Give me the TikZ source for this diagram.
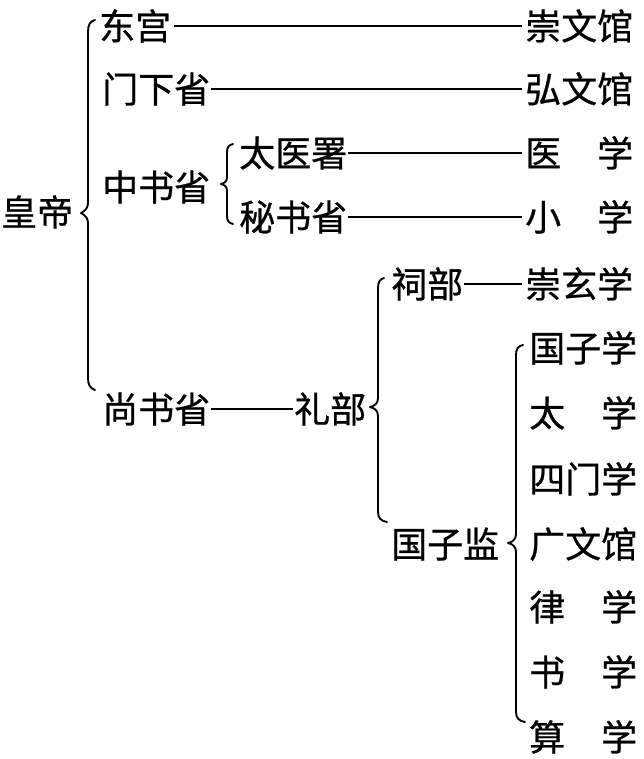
\documentclass[tikz,border=0pt]{standalone}
\usepackage{fontspec}
\setmainfont{Noto Sans CJK SC}
\newfontfamily\cjkf{Noto Sans CJK SC}[FakeBold=0.7]
\begin{document}
\begin{tikzpicture}[x=1pt,y=-1pt,
  every node/.style={inner sep=0pt, text height=31.7pt, text depth=4.3pt, font=\cjkf\fontsize{36}{36}\selectfont},
  lbl/.style={anchor=west},
  link/.style={line width=1.6pt},
  brace/.style={line width=1.9pt, line cap=round, line join=round}]
\useasboundingbox (0,0) rectangle (644,759);
% labels
\node[lbl] (hd)  at (1,212)   {皇帝};
\node[lbl] (dg)  at (99,26)   {东宫};
\node[lbl] (cwg) at (525,26)  {崇文馆};
\node[lbl] (mx)  at (102,89)  {门下省};
\node[lbl] (hwg) at (525,89)  {弘文馆};
\node[lbl] (zs)  at (102,187) {中书省};
\node[lbl] (tys) at (239,153) {太医署};
\node[lbl] (yx)  at (525,153) {医\hspace{1em}学};
\node[lbl] (ms)  at (239,217) {秘书省};
\node[lbl] (xx)  at (525,217) {小\hspace{1em}学};
\node[lbl] (cb)  at (391,284) {祠部};
\node[lbl] (cxx) at (525,284) {崇玄学};
\node[lbl] (ss)  at (102,409) {尚书省};
\node[lbl] (lb)  at (294,409) {礼部};
\node[lbl] (gzj) at (391,544) {国子监};
\node[lbl] (gzx) at (529,348) {国子学};
\node[lbl] (tx)  at (529,413) {太\hspace{1em}学};
\node[lbl] (smx) at (529,479) {四门学};
\node[lbl] (gwg) at (529,544) {广文馆};
\node[lbl] (lx)  at (529,607) {律\hspace{1em}学};
\node[lbl] (sx)  at (529,672) {书\hspace{1em}学};
\node[lbl] (sux) at (529,737) {算\hspace{1em}学};
% connectors
\draw[link] ([xshift=3pt]dg.east) -- ([xshift=-3pt]cwg.west);
\draw[link] ([xshift=1pt]mx.east) -- ([xshift=-3pt]hwg.west);
\draw[link] ([xshift=1pt]tys.east) -- ([xshift=-3pt]yx.west);
\draw[link] ([xshift=1pt]ms.east) -- ([xshift=-3pt]xx.west);
\draw[link] ([xshift=1pt]cb.east) -- ([xshift=-3pt]cxx.west);
\draw[link] ([xshift=1pt]ss.east) -- ([xshift=-1pt]lb.west);
% braces
\draw[brace] (95,20) .. controls (90,21) and (88,25) .. (88,32) -- (88,203)
  .. controls (88,208) and (85,211) .. (81,213) .. controls (85,215) and (88,218) .. (88,223)
  -- (88,378) .. controls (88,385) and (90,388) .. (95,390);
\draw[brace] (233,144) .. controls (229,145) and (227,147) .. (227,152) -- (227,177)
  .. controls (227,181) and (225,183) .. (221,184) .. controls (225,185) and (227,187) .. (227,191)
  -- (227,216) .. controls (227,221) and (229,223) .. (233,224);
\draw[brace] (384,278) .. controls (380,279) and (378,282) .. (378,288) -- (378,398)
  .. controls (378,403) and (375,406) .. (370,407) .. controls (375,408) and (378,411) .. (378,416)
  -- (378,512) .. controls (378,518) and (381,521) .. (387,522);
\draw[brace] (523,345) .. controls (518,346) and (516,349) .. (516,355) -- (516,534)
  .. controls (516,539) and (513,542) .. (508,543) .. controls (513,544) and (516,547) .. (516,552)
  -- (516,712) .. controls (516,718) and (519,721) .. (525,722);
\end{tikzpicture}
\end{document}
